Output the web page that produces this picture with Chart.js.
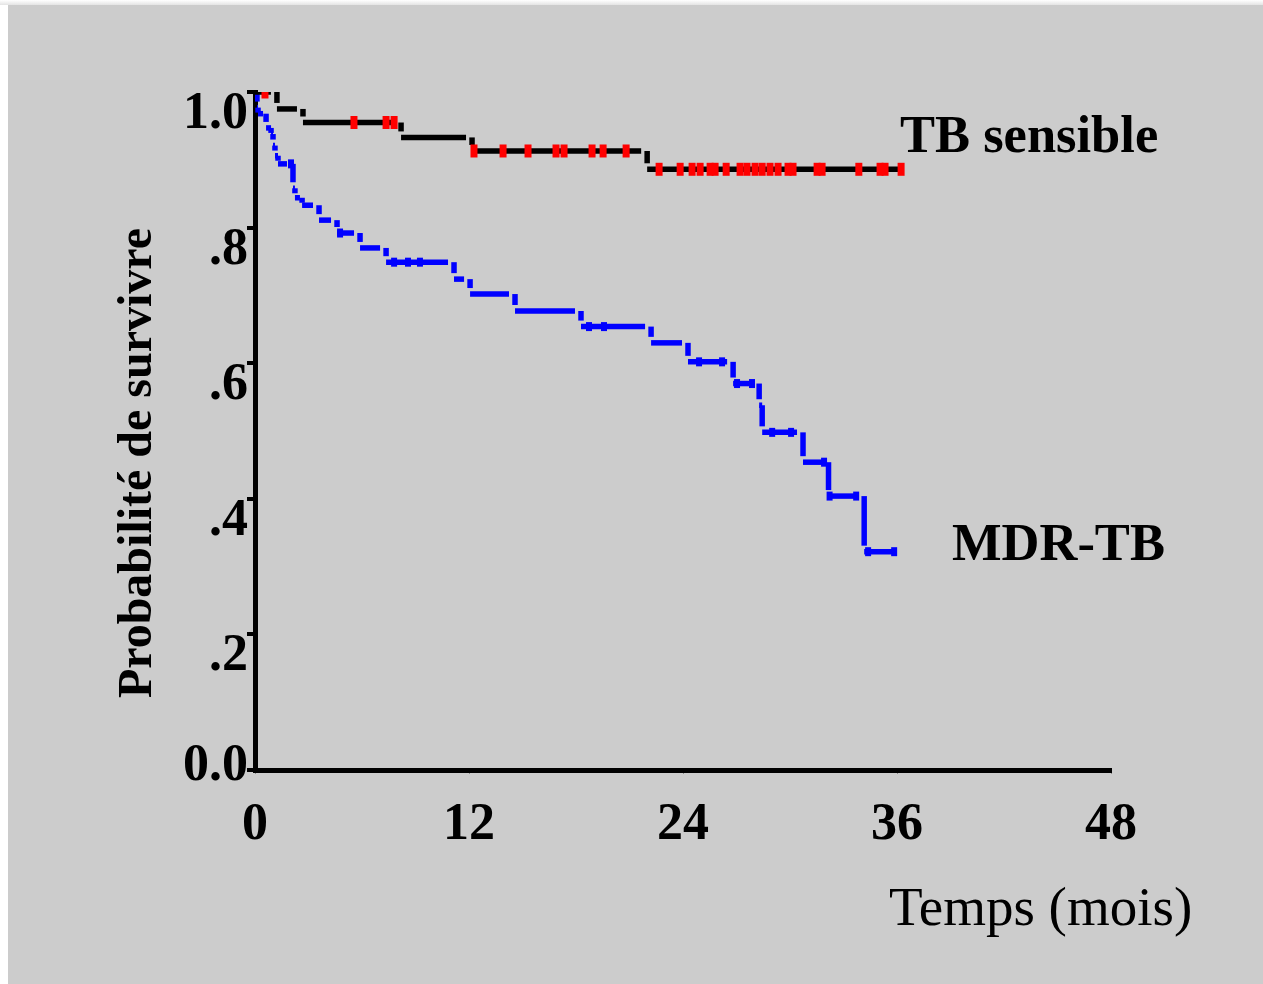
<!DOCTYPE html>
<html><head><meta charset="utf-8">
<script src="https://cdn.jsdelivr.net/npm/chart.js@4.4.1/dist/chart.umd.min.js"></script>
<style>
html,body{margin:0;padding:0;background:#fff;width:1263px;height:984px;overflow:hidden}
#topbar{position:absolute;left:0;top:0;width:1263px;height:5px;background:linear-gradient(#ffffff,#e4e4e4)}
#bg{position:absolute;left:8px;top:5px;width:1255px;height:979px;background:#cccccc}
canvas{position:absolute;left:0;top:0}
</style></head><body>
<div id="topbar"></div><div id="bg"></div>
<canvas id="c" width="1263" height="984"></canvas>
<script>
// ---- data (months, survival probability) ----
const tbTimes  = [0, 1.23, 2.69, 8.19, 12.17, 21.99];
const tbSurv   = [1.0, 0.975, 0.955, 0.933, 0.913, 0.886];
const tbEnd    = 36.34;
const tbCensor = [0.56, 5.55, 7.35, 7.80, 12.28, 13.91, 15.31, 16.88, 17.33, 18.90, 19.52, 20.81,
                  22.66, 23.84, 24.51, 24.96, 25.52, 25.80, 26.42, 27.20, 27.59, 28.04, 28.44,
                  28.88, 29.33, 29.89, 30.17, 31.52, 31.80, 33.86, 35.05, 35.33, 36.23];

const mdrTimes  = [0, 0.11, 0.17, 0.62, 0.90, 1.01, 1.12, 1.29, 2.13, 2.24, 2.64, 3.59, 4.60, 5.89,
                   7.35, 11.16, 12.06, 14.58, 18.28, 22.21, 24.28, 26.81, 28.27, 28.44, 30.73, 32.16, 34.16];
const mdrSurv   = [1.0, 0.977, 0.968, 0.947, 0.938, 0.921, 0.906, 0.894, 0.858, 0.844, 0.833, 0.811, 0.792, 0.770,
                   0.749, 0.724, 0.702, 0.677, 0.654, 0.630, 0.602, 0.570, 0.538, 0.498, 0.454, 0.404, 0.322];
const mdrEnd    = 35.95;
const mdrCensor = [2.02, 4.77, 7.80, 8.58, 9.25, 18.73, 19.57, 24.90, 26.19, 27.03, 27.87, 29.00,
                   30.06, 31.91, 32.22, 33.71, 34.38, 35.84];

const xTickValues = [0, 12, 24, 36, 48];
const yTickValues = [0, 0.2, 0.4, 0.6, 0.8, 1.0];
const yTickLabels = ['0.0', '.2', '.4', '.6', '.8', '1.0'];
const seriesNames = ['TB sensible', 'MDR-TB'];
const xTitle = 'Temps (mois)';
const yTitle = 'Probabilité de survivre';

// ---- helpers ----
const SERIF = '"Liberation Serif","Times New Roman",Times,serif';
const GAP = 6;

function stepSegments(times, surv, end) {
  const pts = [];
  for (let i = 0; i < times.length; i++) {
    const t1 = i + 1 < times.length ? times[i + 1] : end;
    pts.push({x: times[i], y: surv[i]}, {x: t1, y: surv[i]}, {x: t1, y: null});
    if (i + 1 < times.length) {
      pts.push({x: t1, y: surv[i]}, {x: t1, y: surv[i + 1]}, {x: t1, y: null});
    }
  }
  return pts;
}
function survivalAt(times, surv, t) {
  let s = surv[0];
  for (let i = 0; i < times.length; i++) if (times[i] <= t) s = surv[i];
  return s;
}
function gapDash(lastIndex) {
  return ctx => {
    if (ctx.p1DataIndex >= lastIndex) return [];
    const len = Math.hypot(ctx.p1.x - ctx.p0.x, ctx.p1.y - ctx.p0.y);
    return [Math.max(len - GAP, Math.min(len, 5)), 100000];
  };
}

const tbLine = stepSegments(tbTimes, tbSurv, tbEnd);
const mdrLine = stepSegments(mdrTimes, mdrSurv, mdrEnd);
const tbMarks = tbCensor.map(t => ({x: t, y: survivalAt(tbTimes, tbSurv, t)}));
const mdrMarks = mdrCensor.map(t => ({x: t, y: survivalAt(mdrTimes, mdrSurv, t)}));

const textPlugin = {
  id: 'texts',
  afterDraw(chart) {
    const ctx = chart.ctx;
    const ys = chart.scales.y;
    ctx.save();
    ctx.fillStyle = '#000';
    // y tick labels
    ctx.font = 'bold 52px ' + SERIF;
    ctx.textAlign = 'right';
    ctx.textBaseline = 'alphabetic';
    yTickValues.forEach((v, i) => {
      const py = ys.getPixelForValue(v);
      ctx.fillText(yTickLabels[i], 248, v === 0 ? py + 10 : py + 36);
    });
    // series labels
    ctx.textAlign = 'left';
    ctx.font = 'bold 52.5px ' + SERIF;
    ctx.fillText(seriesNames[0], 900, 152);
    ctx.fillText(seriesNames[1], 952, 560);
    // x title
    ctx.font = '55px ' + SERIF;
    ctx.fillText(xTitle, 889, 925);
    // y title
    ctx.font = 'bold 48px ' + SERIF;
    ctx.translate(151, 463);
    ctx.rotate(-Math.PI / 2);
    ctx.textAlign = 'center';
    ctx.fillText(yTitle, 0, 0);
    ctx.restore();
  }
};

new Chart(document.getElementById('c'), {
  data: {
    datasets: [
      {type: 'scatter', data: tbMarks, pointStyle: 'line', pointRotation: 90, pointRadius: 6.5,
       pointBorderWidth: 7, pointBorderColor: '#ff0000', pointBackgroundColor: '#ff0000'},
      {type: 'scatter', data: mdrMarks, pointStyle: 'line', pointRotation: 90, pointRadius: 4.5,
       pointBorderWidth: 6, pointBorderColor: '#0000ff', pointBackgroundColor: '#0000ff'},
      {type: 'line', label: seriesNames[0], data: tbLine, borderColor: '#000', borderWidth: 5.5,
       pointRadius: 0, borderCapStyle: 'butt', spanGaps: false, tension: 0,
       segment: {borderDash: gapDash(tbLine.length - 2)}},
      {type: 'line', label: seriesNames[1], data: mdrLine, borderColor: '#0000ff', borderWidth: 5.5,
       pointRadius: 0, borderCapStyle: 'butt', spanGaps: false, tension: 0,
       segment: {borderDash: gapDash(mdrLine.length - 2)}}
    ]
  },
  options: {
    responsive: false,
    animation: false,
    devicePixelRatio: 1,
    layout: {padding: {top: 92, right: 152, bottom: 0, left: 0}},
    plugins: {legend: {display: false}, tooltip: {enabled: false}},
    events: [],
    scales: {
      x: {
        type: 'linear', min: 0, max: 48,
        afterBuildTicks: s => { s.ticks = xTickValues.map(v => ({value: v})); },
        afterFit: s => { s.height = 214; },
        border: {display: true, color: '#000', width: 5},
        grid: {display: true, drawOnChartArea: false, drawTicks: true, tickLength: 4, color: '#8a8a8a', lineWidth: 1},
        ticks: {font: {family: SERIF, size: 52, weight: 'bold'}, color: '#000', padding: 20,
                maxRotation: 0, autoSkip: false, callback: v => String(v)}
      },
      y: {
        type: 'linear', min: 0, max: 1,
        afterBuildTicks: s => { s.ticks = yTickValues.map(v => ({value: v})); },
        afterFit: s => { s.width = 255; },
        border: {display: true, color: '#000', width: 5},
        grid: {display: true, drawOnChartArea: false, drawTicks: true, tickLength: 8, color: '#000', lineWidth: 4},
        ticks: {display: false}
      }
    }
  },
  plugins: [textPlugin]
});
</script>
</body></html>
